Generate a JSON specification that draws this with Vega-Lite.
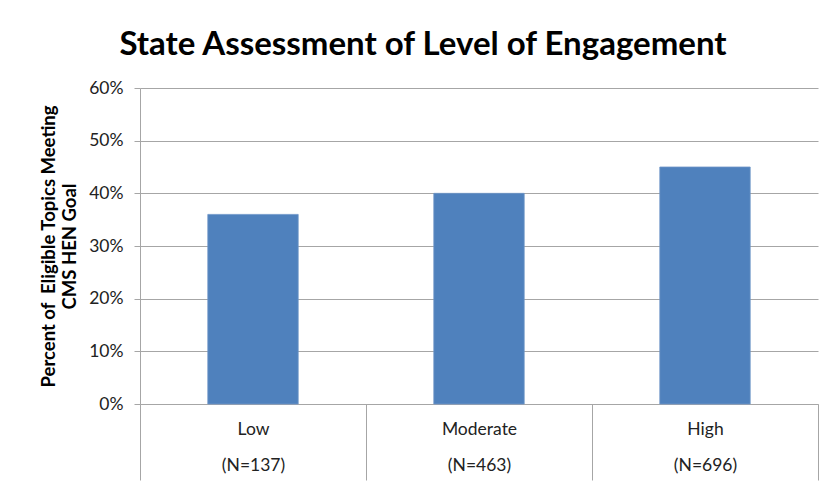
{
  "$schema": "https://vega.github.io/schema/vega-lite/v6.json",
  "autosize": "none",
  "width": 678,
  "height": 316,
  "padding": {"left": 140, "top": 88, "right": 9, "bottom": 85},
  "background": "white",
  "title": {
    "text": "State Assessment of Level of Engagement",
    "font": "Lato",
    "fontSize": 33,
    "fontWeight": "bold",
    "color": "#000000",
    "anchor": "middle",
    "frame": "group",
    "dx": -56,
    "offset": 17
  },
  "data": {
    "values": [
      {"category": "Low|(N=137)", "level": "Low", "n": 137, "pct": 0.36},
      {"category": "Moderate|(N=463)", "level": "Moderate", "n": 463, "pct": 0.40},
      {"category": "High|(N=696)", "level": "High", "n": 696, "pct": 0.45}
    ]
  },
  "mark": {"type": "bar", "color": "#4F81BD", "stroke": "#6E95C8", "strokeWidth": 0.8, "width": {"band": 0.4}},
  "encoding": {
    "x": {
      "field": "category",
      "type": "nominal",
      "sort": null,
      "scale": {"paddingInner": 0, "paddingOuter": 0},
      "axis": {
        "title": null,
        "labelAngle": 0,
        "labelExpr": "split(datum.label, '|')",
        "labelFont": "Lato",
        "labelFontSize": 17.5,
        "labelColor": "#222222",
        "labelLineHeight": 36,
        "labelPadding": -60,
        "labelBaseline": "top",
        "tickBand": "extent",
        "tickSize": 76,
        "tickColor": "#A6A6A6",
        "domainColor": "#A6A6A6",
        "grid": false
      }
    },
    "y": {
      "field": "pct",
      "type": "quantitative",
      "scale": {"domain": [0, 0.6], "nice": false},
      "axis": {
        "title": ["Percent of\u00a0 Eligible Topics Meeting", "CMS HEN Goal"],
        "titleFont": "Lato",
        "titleFontSize": 18.5,
        "titleFontWeight": "bold",
        "titleColor": "#000000",
        "titleLineHeight": 21,
        "titlePadding": 9,
        "format": ".0%",
        "values": [0, 0.1, 0.2, 0.3, 0.4, 0.5, 0.6],
        "labelFont": "Lato",
        "labelFontSize": 17.5,
        "labelColor": "#222222",
        "labelPadding": 11,
        "tickSize": 6,
        "tickColor": "#A6A6A6",
        "domainColor": "#A6A6A6",
        "gridColor": "#A6A6A6",
        "grid": true
      }
    }
  },
  "config": {
    "view": {"stroke": null}
  }
}
